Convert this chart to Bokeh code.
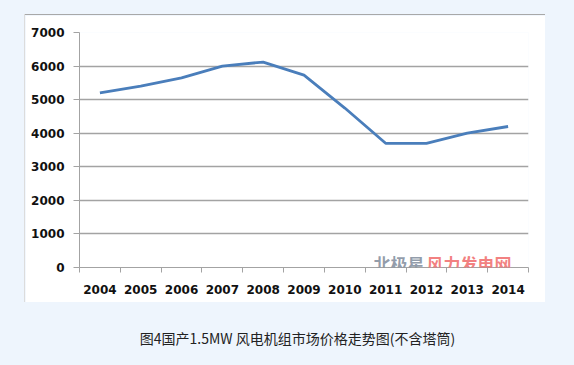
from bokeh.plotting import figure
from bokeh.models import FixedTicker, Range1d, Label, Column, Row, Spacer
from bokeh.embed import file_html
from bokeh.resources import INLINE

years = ["2004", "2005", "2006", "2007", "2008", "2009", "2010", "2011", "2012", "2013", "2014"]
prices = [5200, 5400, 5650, 6000, 6120, 5730, 4750, 3700, 3700, 4000, 4200]
y_ticks = [0, 1000, 2000, 3000, 4000, 5000, 6000, 7000]
caption = "图4国产1.5MW 风电机组市场价格走势图(不含塔筒)"
watermark_a = "北极星"
watermark_b = "风力发电网"

PAGE_BG = "#EEF5FD"
GRID = "#a3a3a3"
LABEL_FONT = "DejaVu Sans"
BG = {"background-color": PAGE_BG}

n = len(years)
xs = [i + 0.5 for i in range(n)]

p = figure(width=520, height=287, output_backend="svg", toolbar_location=None,
           x_range=Range1d(0, n), y_range=Range1d(0, 7000),
           min_border_left=54, min_border_right=17, min_border_top=17, min_border_bottom=35,
           border_fill_color="white", background_fill_color="white",
           outline_line_color=None)

p.line(xs, prices, line_color="#4A7EBB", line_width=2.8)

# x axis: labels at category centres, tick marks at category boundaries
xa = p.xaxis[0]
xa.ticker = FixedTicker(ticks=xs, minor_ticks=list(range(n + 1)))
xa.major_label_overrides = {x: y for x, y in zip(xs, years)}
xa.major_tick_out = 0
xa.major_tick_in = 0
xa.minor_tick_out = 5
xa.minor_tick_in = 0
xa.minor_tick_line_color = GRID
xa.axis_line_color = GRID
xa.major_label_standoff = 12
xa.major_label_text_font = LABEL_FONT
xa.major_label_text_font_style = "bold"
xa.major_label_text_font_size = "12px"
xa.major_label_text_color = "#111111"

ya = p.yaxis[0]
ya.ticker = FixedTicker(ticks=y_ticks)
ya.major_tick_out = 6
ya.major_tick_in = 0
ya.minor_tick_line_color = None
ya.major_tick_line_color = GRID
ya.axis_line_color = GRID
ya.major_label_standoff = 9
ya.major_label_text_font = LABEL_FONT
ya.major_label_text_font_style = "bold"
ya.major_label_text_font_size = "12px"
ya.major_label_text_color = "#111111"

p.xgrid.grid_line_color = None
p.ygrid.ticker = FixedTicker(ticks=y_ticks)
p.ygrid.grid_line_color = GRID
p.ygrid.grid_line_width = 1.3

# watermark
p.add_layout(Label(x=7.2, y=120, text=watermark_a, text_font="Noto Sans CJK SC",
                   text_font_style="bold", text_font_size="17px", text_color="#7f8c9c",
                   text_alpha=0.85, text_baseline="middle", text_align="left"))
p.add_layout(Label(x=8.5, y=120, text=watermark_b, text_font="Noto Sans CJK SC",
                   text_font_style="bold", text_font_size="17px", text_color="#f06a6a",
                   text_alpha=0.85, text_baseline="middle", text_align="left"))

# top and left edges of the white panel
top_edge = Spacer(width=520, height=1, styles={"background-color": "#a8a8a8"})
left_edge = Spacer(width=1, height=288, styles={"background-color": "#dcdcdc"})

# caption
CAP_H = 63
c = figure(width=574, height=CAP_H, output_backend="svg", toolbar_location=None,
           x_range=Range1d(0, 574), y_range=Range1d(0, CAP_H),
           min_border=0, border_fill_color=PAGE_BG, background_fill_color=PAGE_BG,
           outline_line_color=None)
c.axis.visible = False
c.grid.visible = False
c.add_layout(Label(x=297, y=CAP_H - 35, text=caption, text_font="Noto Sans CJK SC",
                   text_font_size="14px", text_color="#222222",
                   text_align="center", text_baseline="middle"))

panel = Column(top_edge, p, spacing=0)
row = Row(Spacer(width=24, height=288, styles=BG), left_edge, panel,
          Spacer(width=29, height=288, styles=BG), spacing=0, styles=BG)
layout = Column(Spacer(width=574, height=14, styles=BG), row, c, spacing=0, styles=BG)

html = file_html(layout, INLINE)
html = html.replace("</head>", "<style>html, body { background-color: #EEF5FD; }</style></head>", 1)
open("out.html", "w").write(html)
